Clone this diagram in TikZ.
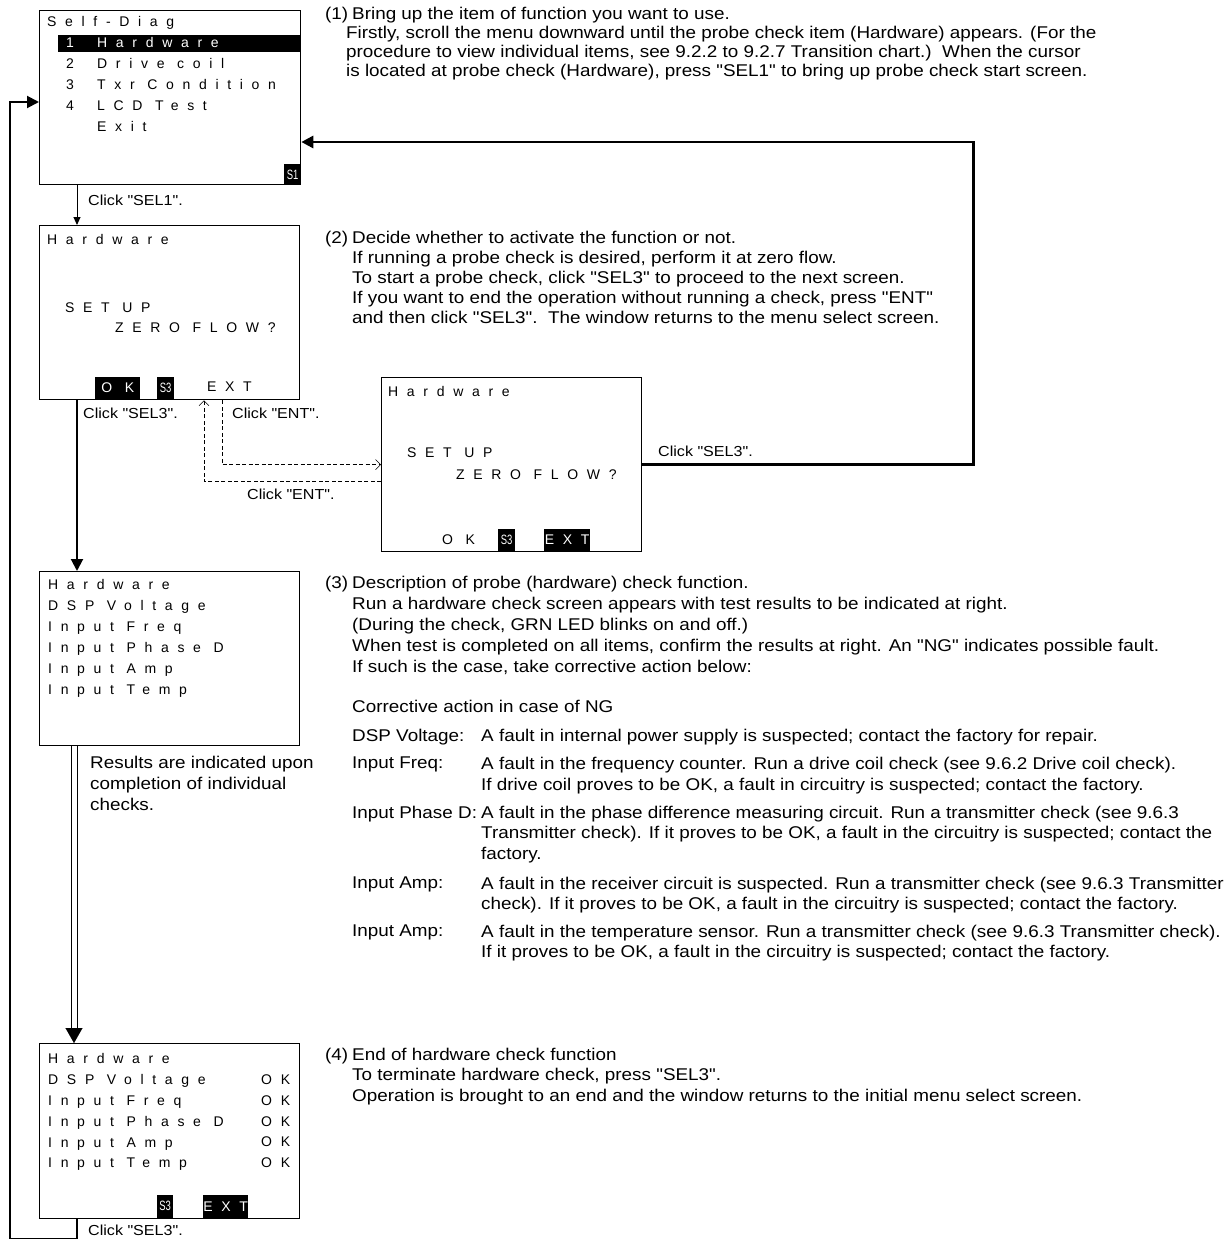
\documentclass[tikz,border=0pt]{standalone}
\usepackage{fontspec}
\setmainfont{Liberation Sans}
\newfontfamily\noteface{Liberation Sans}[FakeStretch=1.11]
\newfontfamily\lcdface{Liberation Sans}[LetterSpace=62]
\newfontfamily\tagface{Liberation Sans}[FakeStretch=0.7]
\usetikzlibrary{arrows.meta,calc,positioning}

\tikzset{
  screen/.style={draw, line width=1.3pt, anchor=north west, inner sep=0pt,
    minimum width=260pt, minimum height=174pt},
  lcd/.style={font=\lcdface\fontsize{14}{21}\selectfont, anchor=north west,
    inner sep=0pt, align=left},
  key/.style={fill=black, text=white, font=\lcdface\fontsize{14}{21}\selectfont,
    anchor=south west, inner sep=0pt, minimum height=22pt},
  tag/.style={fill=black, text=white, font=\tagface\fontsize{13.5}{14}\selectfont,
    anchor=south west, inner sep=0pt, minimum width=17pt, minimum height=22pt},
  note/.style={font=\noteface\fontsize{17}{20}\selectfont, anchor=north west,
    inner sep=0pt, align=left},
  click/.style={font=\noteface\fontsize{14.5}{17}\selectfont, anchor=north west, inner sep=0pt},
  flow/.style={line width=2pt, -{Triangle[length=12pt,width=12pt]}},
  bigflow/.style={line width=2.8pt, -{Triangle[length=12pt,width=12pt]}},
  thinflow/.style={line width=1pt, -{Triangle[length=8pt,width=7pt]}},
  back/.style={line width=0.6pt, dash pattern=on 4pt off 2.5pt,
    -{Straight Barb[length=5pt,width=10pt]}},
  rail/.style={line width=0.9pt},
}

\begin{document}
\begin{tikzpicture}[x=1pt, y=-1pt]
\useasboundingbox (0,0) rectangle (1230,1239);

% menu select screen
\node[screen, minimum width=261pt] (menu) at (39,10) {};
\node[lcd] (menutitle) at (47,16.5) {Self-Diag};
\node[fill=black, anchor=north west, inner sep=0pt, minimum width=242pt, minimum height=17pt] (hwbar) at (58,35) {};
\node[lcd] (menunum) at (66,37.5) {\color{white}1\\2\\3\\4};
\node[lcd] (menuitem) at (97,37.5) {\color{white}Hardware\\Drive coil\\Txr Condition\\LCD Test\\Exit};
\node[tag, anchor=south east, minimum height=21pt] (menus1) at (menu.south east) {S1};

% start screen
\node[screen] (zero) at (39,225) {};
\node[lcd] (zerotitle) at (47,234.5) {Hardware};
\node[lcd] (zeroset) at (65,302.5) {SET UP};
\node[lcd] (zeroflow) at (115,322.5) {ZERO FLOW?};
\node[key, minimum width=45pt] (zerook) at (95,399) {O K};
\node[tag] (zeros3) at (157,399) {S3};
\node[lcd] (zeroext) at (207,381.5) {EXT};

% start screen after ENT
\node[screen] (ent) at (381,377) {};
\node[lcd] (enttitle) at (388,386.5) {Hardware};
\node[lcd] (entset) at (407,447.5) {SET UP};
\node[lcd] (entflow) at (456,469.5) {ZERO FLOW?};
\node[lcd] (entok) at (442,534.5) {O K};
\node[tag] (ents3) at (498,551) {S3};
\node[key, minimum width=46pt] (entext) at (544,551) {EXT};

% check running
\node[screen] (check) at (39,571) {};
\node[lcd] (checkitem) at (48,579.5) {Hardware\\DSP Voltage\\Input Freq\\Input Phase D\\Input Amp\\Input Temp};

% check finished
\node[screen, minimum height=175pt] (result) at (39,1043) {};
\node[lcd, font=\lcdface\fontsize{14}{20.8}\selectfont] (resultitem) at (48,1053.5) {Hardware\\DSP Voltage\\Input Freq\\Input Phase D\\Input Amp\\Input Temp};
\node[lcd, font=\lcdface\fontsize{14}{20.8}\selectfont] (resultok) at (261,1074.5) {OK\\OK\\OK\\OK\\OK};
\node[tag, minimum width=16pt, minimum height=23pt] (results3) at (157,1218) {S3};
\node[key, minimum width=45pt, minimum height=23pt] (resultext) at (203,1218) {EXT};

% connectors
\coordinate (dblend) at (74,1028);
\coordinate (dblleft) at (71,1029);
\coordinate (dblright) at (77,1029);
\coordinate (loopcorner) at (10,1239);
\draw[thinflow] ([xshift=38pt]menu.south west) -- ([xshift=38pt]zero.north west);
\draw[flow] ([xshift=38pt]zero.south west) -- ([xshift=38pt]check.north west);
\draw[back] ([xshift=183pt]zero.south west) |- (ent.west);
\draw[back] ([yshift=-17pt]ent.west) -| ([xshift=165pt]zero.south west);
\draw[bigflow] (ent.east) -- ++(331,0) |- ([yshift=-132pt]menu.north east);
\draw[rail] ([xshift=32pt]check.south west) -- (dblleft);
\draw[rail] ([xshift=38pt]check.south west) -- (dblright);
\draw[line width=0.1pt, -{Triangle[length=15pt,width=17pt]}] (dblend) -- ([xshift=35pt]result.north west);
\draw[flow] ([xshift=38pt]result.south west) |- (loopcorner) |- ([yshift=-92pt]menu.north west);

% connector labels
\node[click] (clicksel1) at (88,194.4) {Click "SEL1".};
\node[click] (clicksel3) at (83,407.4) {Click "SEL3".};
\node[click] (clickent) at (232,407.4) {Click "ENT".};
\node[click] (clickentback) at (247,488.4) {Click "ENT".};
\node[click] (clickreturn) at (658,445.4) {Click "SEL3".};
\node[click] (clickend) at (88,1224.4) {Click "SEL3".};
\node[note, font=\noteface\fontsize{17}{21}\selectfont] (resultsnote) at (90,755.5) {Results are indicated upon\\completion of individual\\checks.};

% step (1)
\node[note] (onenum) at (325,6.5) {(1)};
\node[note] (onetext) at (352,6.5) {Bring up the item of function you want to use.};
\node[note, font=\noteface\fontsize{17}{19}\selectfont] (onemore) at (346,25.5) {Firstly, scroll the menu downward until the probe check item (Hardware) appears. (For the\\
procedure to view individual items, see 9.2.2 to 9.2.7 Transition chart.)\ \ When the cursor\\
is located at probe check (Hardware), press "SEL1" to bring up probe check start screen.};

% step (2)
\node[note] (twonum) at (325,230.5) {(2)};
\node[note] (twotext) at (352,230.5) {Decide whether to activate the function or not.\\
If running a probe check is desired, perform it at zero flow.\\
To start a probe check, click "SEL3" to proceed to the next screen.\\
If you want to end the operation without running a check, press "ENT"\\
and then click "SEL3".\ \ The window returns to the menu select screen.};

% step (3)
\node[note] (threenum) at (325,575.5) {(3)};
\node[note, font=\noteface\fontsize{17}{21}\selectfont] (threetext) at (352,575.5) {Description of probe (hardware) check function.\\
Run a hardware check screen appears with test results to be indicated at right.\\
(During the check, GRN LED blinks on and off.)\\
When test is completed on all items, confirm the results at right. An "NG" indicates possible fault.\\
If such is the case, take corrective action below:};
\node[note] (ngtitle) at (352,699.5) {Corrective action in case of NG};
\node[note] (ngdsp) at (352,728.5) {DSP Voltage:};
\node[note] (ngdsptext) at (481,728.5) {A fault in internal power supply is suspected; contact the factory for repair.};
\node[note] (ngfreq) at (352,756.5) {Input Freq:};
\node[note, font=\noteface\fontsize{17}{21}\selectfont] (ngfreqtext) at (481,756.5) {A fault in the frequency counter. Run a drive coil check (see 9.6.2 Drive coil check).\\
If drive coil proves to be OK, a fault in circuitry is suspected; contact the factory.};
\node[note] (ngphase) at (352,805.5) {Input Phase D:};
\node[note, font=\noteface\fontsize{17}{20.5}\selectfont] (ngphasetext) at (481,805.5) {A fault in the phase difference measuring circuit. Run a transmitter check (see 9.6.3\\
Transmitter check). If it proves to be OK, a fault in the circuitry is suspected; contact the\\
factory.};
\node[note] (ngamp) at (352,876.5) {Input Amp:};
\node[note] (ngamptext) at (481,876.5) {A fault in the receiver circuit is suspected. Run a transmitter check (see 9.6.3 Transmitter\\
check). If it proves to be OK, a fault in the circuitry is suspected; contact the factory.};
\node[note] (ngtemp) at (352,924.5) {Input Amp:};
\node[note] (ngtemptext) at (481,924.5) {A fault in the temperature sensor. Run a transmitter check (see 9.6.3 Transmitter check).\\
If it proves to be OK, a fault in the circuitry is suspected; contact the factory.};

% step (4)
\node[note] (fournum) at (325,1047.5) {(4)};
\node[note, font=\noteface\fontsize{17}{20.5}\selectfont] (fourtext) at (352,1047.5) {End of hardware check function\\
To terminate hardware check, press "SEL3".\\
Operation is brought to an end and the window returns to the initial menu select screen.};
\end{tikzpicture}
\end{document}
